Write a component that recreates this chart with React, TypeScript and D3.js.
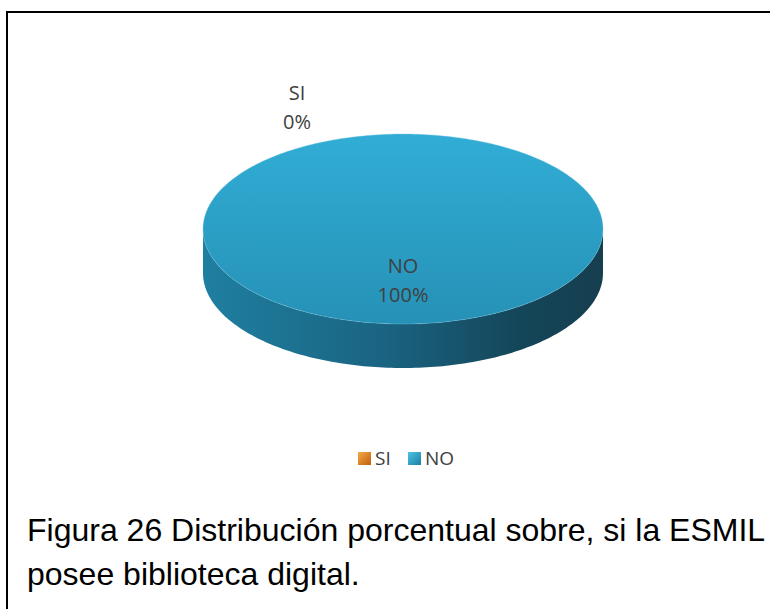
import React from "react";
import * as d3 from "d3";

const categories = ["SI", "NO"];
const values = [0, 100];
const percentLabels = ["0%", "100%"];
const sliceColors = ["#E48A1E", "#2EA5CC"];
const captionLines = [
  "Figura 26 Distribución porcentual sobre, si la ESMIL",
  "posee biblioteca digital.",
];

const W = 770;
const H = 609;
const cx = 403;
const cy = 229;
const rx = 200;
const ry = 95;
const depth = 44;

function ellPt(theta: number, dy = 0): [number, number] {
  return [cx + rx * Math.cos(theta), cy + dy + ry * Math.sin(theta)];
}

function topPath(a0: number, a1: number): string {
  const t0 = a0 - Math.PI / 2;
  const t1 = a1 - Math.PI / 2;
  const n = Math.max(2, Math.ceil((t1 - t0) / 0.02));
  const pts: [number, number][] = d3.range(n + 1).map((i) => ellPt(t0 + ((t1 - t0) * i) / n));
  const full = a1 - a0 >= 2 * Math.PI - 1e-6;
  const d = (full ? "M" : `M${cx},${cy}L`) + pts.map((p) => p.join(",")).join("L");
  return d + "Z";
}

function sidePaths(a0: number, a1: number): string[] {
  const t0 = a0 - Math.PI / 2;
  const t1 = a1 - Math.PI / 2;
  const out: string[] = [];
  for (const base of [-2 * Math.PI, 0, 2 * Math.PI]) {
    const s = Math.max(t0, base);
    const e = Math.min(t1, base + Math.PI);
    if (e - s > 1e-6) {
      const n = Math.max(2, Math.ceil((e - s) / 0.02));
      const ts = d3.range(n + 1).map((i) => s + ((e - s) * i) / n);
      const upper = ts.map((t) => ellPt(t));
      const lower = ts.slice().reverse().map((t) => ellPt(t, depth));
      out.push("M" + upper.concat(lower).map((p) => p.join(",")).join("L") + "Z");
    }
  }
  return out;
}

export default function App() {
  const pie = d3.pie<number>().sort(null).value((d) => d);
  const arcs = pie(values);

  const labelFont = "'Open Sans', 'Noto Sans', sans-serif";

  return (
    <svg
      width={W}
      height={H}
      style={{ position: "absolute", left: 0, top: 0, background: "#fff" }}
    >
      <defs>
        <linearGradient id="topGrad" x1="0" y1="0" x2="0" y2="1">
          <stop offset="0" stopColor="#31ADD5" />
          <stop offset="1" stopColor="#2691B6" />
        </linearGradient>
        <linearGradient id="sideGrad" x1="0" y1="0" x2="1" y2="0">
          <stop offset="0" stopColor="#1F7FA0" />
          <stop offset="0.45" stopColor="#1A6482" />
          <stop offset="0.8" stopColor="#144558" />
          <stop offset="1" stopColor="#163F50" />
        </linearGradient>
        <linearGradient id="legSI" x1="0" y1="0" x2="1" y2="1">
          <stop offset="0" stopColor="#F5A945" />
          <stop offset="1" stopColor="#C0600E" />
        </linearGradient>
        <linearGradient id="legNO" x1="0" y1="0" x2="1" y2="1">
          <stop offset="0" stopColor="#4EC4E4" />
          <stop offset="1" stopColor="#1C7FA2" />
        </linearGradient>
      </defs>

      <rect x={7} y={12} width={900} height={800} fill="none" stroke="#000" strokeWidth={2} />

      {arcs.map((a, i) =>
        sidePaths(a.startAngle, a.endAngle).map((d, j) => (
          <path key={`s${i}-${j}`} d={d} fill={i === 1 ? "url(#sideGrad)" : sliceColors[i]} />
        ))
      )}
      {arcs.map((a, i) =>
        a.endAngle - a.startAngle > 1e-6 ? (
          <path
            key={`t${i}`}
            d={topPath(a.startAngle, a.endAngle)}
            fill={i === 1 ? "url(#topGrad)" : sliceColors[i]}
            stroke="rgba(120,200,230,0.35)"
            strokeWidth={1}
          />
        ) : null
      )}

      {arcs.map((a, i) => {
        const zero = a.endAngle - a.startAngle < 1e-6;
        const x = zero ? cx - 0.53 * rx : cx;
        const y = zero ? cy - 1.21 * ry : cy + 0.61 * ry;
        return (
          <g key={`l${i}`} fontFamily={labelFont} fontSize={20} fill="#404040" textAnchor="middle">
            <text x={x} y={y - 14}>{categories[i]}</text>
            <text x={x} y={y + 15}>{percentLabels[i]}</text>
          </g>
        );
      })}

      <g fontFamily={labelFont} fontSize={19} fill="#404040">
        {categories.map((c, i) => {
          const lx = 358 + i * 50;
          return (
            <g key={`lg${i}`}>
              <rect x={lx} y={452} width={13} height={13} fill={i === 0 ? "url(#legSI)" : "url(#legNO)"} />
              <text x={lx + 17} y={465}>{c}</text>
            </g>
          );
        })}
      </g>

      <g fontFamily="'Liberation Sans', Arial, sans-serif" fontSize={32} fill="#000">
        {captionLines.map((l, i) => (
          <text key={i} x={27} y={541 + i * 44}>{l}</text>
        ))}
      </g>
    </svg>
  );
}
